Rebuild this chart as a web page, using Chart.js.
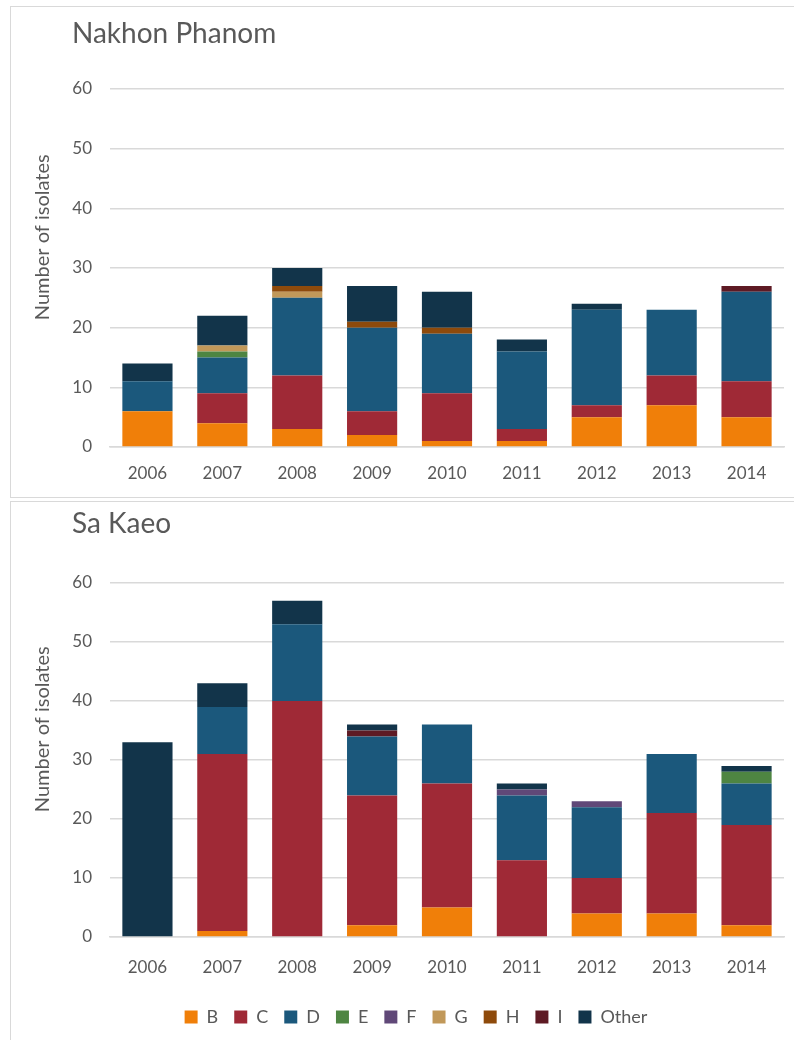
<!DOCTYPE html>
<html>
<head>
<meta charset="utf-8">
<script src="https://cdn.jsdelivr.net/npm/chart.js@4"></script>
<style>
  body { margin: 0; background: #fff; font-family: Lato, sans-serif; overflow: hidden; }
  .panel { position: absolute; border: 1.5px solid #d9d9d9; background: #fff; }
  .title { position: absolute; left: 72px; font-size: 28px; color: #595959; }
  canvas { position: absolute; left: 0; }
</style>
</head>
<body>
<div class="panel" style="left:10px; top:6px; width:800px; height:490px;"></div>
<div class="panel" style="left:10px; top:501px; width:800px; height:560px;"></div>
<canvas id="topChart" style="top:0px;"></canvas>
<canvas id="bottomChart" style="top:497px;"></canvas>
<div class="title" style="top:15px;">Nakhon Phanom</div>
<div class="title" style="top:505px;">Sa Kaeo</div>
<script>
const years = ['2006', '2007', '2008', '2009', '2010', '2011', '2012', '2013', '2014'];
const groups = ['B', 'C', 'D', 'E', 'F', 'G', 'H', 'I', 'Other'];
const colors = ['#f07f09', '#9f2936', '#1b587c', '#4e8542', '#604878', '#c19859', '#8e4a0b', '#5e1a24', '#12344a'];

// Nakhon Phanom
const npB = [6, 4, 3, 2, 1, 1, 5, 7, 5];
const npC = [0, 5, 9, 4, 8, 2, 2, 5, 6];
const npD = [5, 6, 13, 14, 10, 13, 16, 11, 15];
const npE = [0, 1, 0, 0, 0, 0, 0, 0, 0];
const npF = [0, 0, 0, 0, 0, 0, 0, 0, 0];
const npG = [0, 1, 1, 0, 0, 0, 0, 0, 0];
const npH = [0, 0, 1, 1, 1, 0, 0, 0, 0];
const npI = [0, 0, 0, 0, 0, 0, 0, 0, 1];
const npOther = [3, 5, 3, 6, 6, 2, 1, 0, 0];

// Sa Kaeo
const skB = [0, 1, 0, 2, 5, 0, 4, 4, 2];
const skC = [0, 30, 40, 22, 21, 13, 6, 17, 17];
const skD = [0, 8, 13, 10, 10, 11, 12, 10, 7];
const skE = [0, 0, 0, 0, 0, 0, 0, 0, 2];
const skF = [0, 0, 0, 0, 0, 1, 1, 0, 0];
const skG = [0, 0, 0, 0, 0, 0, 0, 0, 0];
const skH = [0, 0, 0, 0, 0, 0, 0, 0, 0];
const skI = [0, 0, 0, 1, 0, 0, 0, 0, 0];
const skOther = [33, 4, 4, 1, 0, 1, 0, 0, 1];

const yTicks = [0, 10, 20, 30, 40, 50, 60];

const fontFamily = 'Lato, sans-serif';
const grey = '#595959';
// leading spaces lift the rotated axis title a little above the plot centre, as in the original
const yTitle = '            Number of isolates';

function makeDatasets(series) {
    return series.map((values, i) => ({
        label: groups[i],
        data: values,
        backgroundColor: colors[i],
        borderWidth: 0,
        barPercentage: 0.67,
        categoryPercentage: 1.0
    }));
}

function makeChart(id, width, height, series, opts) {
    const canvas = document.getElementById(id);
    canvas.width = width;
    canvas.height = height;
    canvas.style.width = width + 'px';
    canvas.style.height = height + 'px';
    return new Chart(canvas.getContext('2d'), {
        type: 'bar',
        data: {
            labels: years,
            datasets: makeDatasets(series)
        },
        options: {
            responsive: false,
            animation: false,
            devicePixelRatio: 1,
            layout: { padding: opts.padding },
            plugins: {
                legend: opts.legend,
                tooltip: { enabled: false }
            },
            scales: {
                x: {
                    stacked: true,
                    grid: { display: false, drawTicks: false },
                    border: { display: true, color: '#d9d9d9', width: 1.5 },
                    ticks: { color: grey, font: { family: fontFamily, size: 17 }, padding: opts.xPad },
                    afterFit: function(scale) { scale.height = opts.xHeight; }
                },
                y: {
                    stacked: true,
                    min: 0,
                    max: 60,
                    afterBuildTicks: function(scale) { scale.ticks = yTicks.map(v => ({ value: v })); },
                    grid: { color: '#d9d9d9', lineWidth: 1.5, drawTicks: false },
                    border: { display: false },
                    ticks: { color: grey, font: { family: fontFamily, size: 17 }, padding: 18 },
                    title: {
                        display: true,
                        text: yTitle,
                        color: grey,
                        font: { family: fontFamily, size: 20 },
                        padding: { top: -17, bottom: 0 }
                    },
                    afterFit: function(scale) { scale.width = 62; }
                }
            }
        }
    });
}

makeChart('topChart', 794, 497,
    [npB, npC, npD, npE, npF, npG, npH, npI, npOther],
    { padding: { left: 48, right: 10, top: 89, bottom: 10 }, xHeight: 40, xPad: 16, legend: { display: false } });

makeChart('bottomChart', 794, 543,
    [skB, skC, skD, skE, skF, skG, skH, skI, skOther],
    {
        padding: { left: 48, right: 10, top: 86, bottom: 4 },
        xHeight: 55,
        xPad: 20,
        legend: {
            display: true,
            position: 'bottom',
            labels: {
                color: grey,
                boxWidth: 13,
                boxHeight: 13,
                padding: 16,
                font: { family: fontFamily, size: 18 }
            }
        }
    });
</script>
</body>
</html>
